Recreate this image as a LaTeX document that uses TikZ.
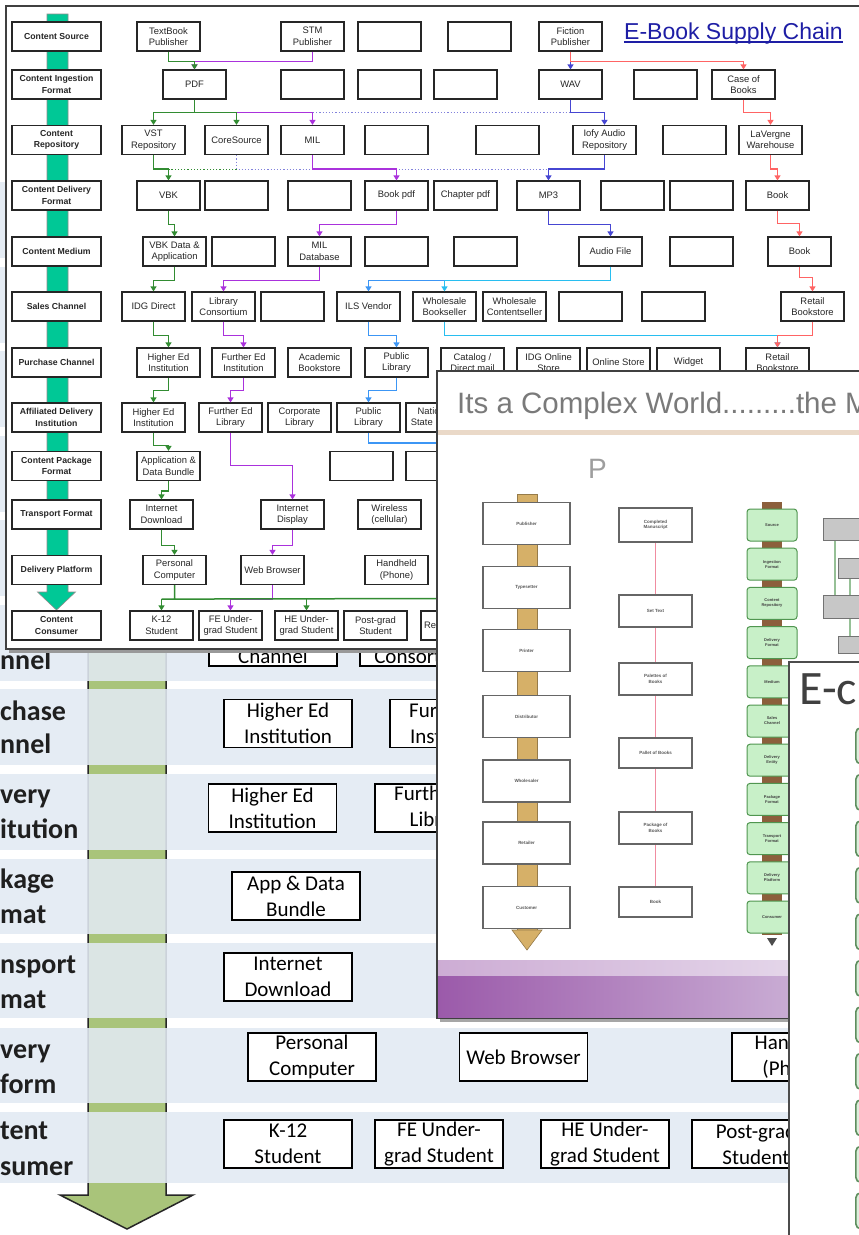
\documentclass[tikz,border=0pt]{standalone}
\usepackage{fontspec}
\setmainfont{Liberation Sans}
\newfontfamily\calib{Carlito}
\usetikzlibrary{arrows.meta,calc}
\definecolor{rowblue}{RGB}{226,234,243}
\definecolor{colgreen}{RGB}{169,196,122}
\definecolor{teal1}{RGB}{0,200,150}
\definecolor{cgreen}{RGB}{50,140,50}
\definecolor{cpurple}{RGB}{170,50,220}
\definecolor{cred}{RGB}{255,100,100}
\definecolor{cblue}{RGB}{70,70,210}
\definecolor{clblue}{RGB}{60,150,245}
\definecolor{ccyan}{RGB}{40,190,240}
\definecolor{cdot}{RGB}{130,130,220}
\definecolor{titleblue}{RGB}{30,30,165}
\definecolor{tanc}{RGB}{214,176,104}
\definecolor{brownc}{RGB}{140,95,60}
\definecolor{lgreen}{RGB}{200,240,200}
\definecolor{dgreen}{RGB}{80,150,80}
\definecolor{purpL}{RGB}{155,90,170}
\definecolor{purpR}{RGB}{212,192,222}
\definecolor{pinkc}{RGB}{240,140,160}
\definecolor{beige}{RGB}{234,217,200}
\definecolor{rgreenf}{RGB}{220,238,220}
\definecolor{rgreend}{RGB}{94,142,94}
\begin{document}
\begin{tikzpicture}[x=1pt,y=-1pt,
  tb/.style={draw=black!85, line width=1.2pt, fill=white, minimum width=63pt, minimum height=29pt, inner sep=0pt, align=center, font=\fontsize{9.4}{11.5}\selectfont, text=black!85},
  tlab/.style={tb, minimum width=89pt, font=\fontsize{8.7}{11.5}\selectfont\bfseries},
  cl/.style={line width=1.5pt, draw=#1, -{Triangle[width=6pt,length=5pt]}},
  pl/.style={line width=1.5pt, draw=#1},
  dotl/.style={line width=1.2pt, draw=#1, dotted},
  bgbox/.style={draw=black, line width=1.5pt, fill=white, minimum width=128pt, minimum height=48pt, inner sep=0pt, align=center, font=\calib\fontsize{21}{26}\selectfont},
  bgtxt/.style={anchor=base, font=\calib\fontsize{21}{26}\selectfont, inner sep=0pt},
  bglab/.style={anchor=base west, font=\calib\bfseries\fontsize{28}{30}\selectfont, text=black!88, inner sep=0pt},
  mbox/.style={draw=black!60, line width=1.2pt, fill=white, inner sep=0pt, align=center, font=\fontsize{4.5}{5.5}\selectfont\bfseries, text=black!65},
  gbox/.style={draw=dgreen, line width=1pt, fill=lgreen, rounded corners=3pt, minimum width=50pt, minimum height=32pt, inner sep=0pt, align=center, font=\fontsize{4}{5}\selectfont\bfseries, text=black!75},
  graybox/.style={draw=black!55, line width=1pt, fill=black!22, minimum width=50pt, inner sep=0pt},
  rbox/.style={draw=rgreend, line width=1.6pt, fill=rgreenf, rounded corners=5pt, minimum width=40pt, minimum height=36pt, inner sep=0pt}
]
\useasboundingbox (0,0) rectangle (859,1235);
\clip (0,0) rectangle (859,1235);
\fill[white] (0,0) rectangle (859,1235);

% ================= background slide =================
\filldraw[fill=colgreen, draw=black!85, line width=1.5pt] (88,180) -- (166,180) -- (166,1195) -- (193,1195) -- (127,1229) -- (60,1195) -- (88,1195) -- cycle;
\foreach \t/\b in {182/258,267/343,351/427,436/512,520/596,605/681,689/765,774/850,859/934,943/1018,1028/1103,1112/1183}
  \fill[rowblue, opacity=0.88] (0,\t) rectangle (859,\b);

\node[bglab] (bl1) at (0,669) {nnel};
\node[bglab] (bl2) at (0,720) {chase};
\node[bglab] (bl3) at (0,753) {nnel};
\node[bglab] (bl4) at (0,803) {very};
\node[bglab] (bl5) at (0,838) {itution};
\node[bglab] (bl6) at (0,888) {kage};
\node[bglab] (bl7) at (0,923) {mat};
\node[bglab] (bl8) at (0,973) {nsport};
\node[bglab] (bl9) at (0,1008) {mat};
\node[bglab] (bl10) at (0,1058) {very};
\node[bglab] (bl11) at (0,1093) {form};
\node[bglab] (bl12) at (0,1139) {tent};
\node[bglab] (bl13) at (0,1175) {sumer};

\node[bgbox] (bgch) at (273,642) {};
\node[bgtxt] (bgcht) at (273,663) {Channel};
\node[bgbox] (bgco) at (424,642) {};
\node[bgtxt] (bgcot) at (424,663) {Consortium};
\node[bgbox] (bghei1) at (288,723.5) {Higher Ed\\Institution};
\node[bgbox] (bgfei) at (454,723.5) {Further Ed\\Institution};
\node[bgbox] (bghei2) at (272.5,808) {Higher Ed\\Institution};
\node[bgbox] (bgfel) at (439,808) {Further Ed\\Library};
\node[bgbox] (bgadb) at (296,896) {App \& Data\\Bundle};
\node[bgbox] (bgidl) at (288,977) {Internet\\Download};
\node[bgbox] (bgpc) at (312,1057) {Personal\\Computer};
\node[bgbox] (bgwb) at (523.5,1057) {Web Browser};
\node[bgbox] (bghh) at (796,1057) {Handheld\\(Phone)};
\node[bgbox] (bgk12) at (288,1144) {K-12\\Student};
\node[bgbox] (bgfeu) at (439,1144) {FE Under-\\grad Student};
\node[bgbox] (bgheu) at (605,1144) {HE Under-\\grad Student};
\node[bgbox] (bgpgs) at (756,1144) {Post-grad\\Student};

% ================= top diagram =================
\fill[black!40] (9,9) rectangle (875,653);
\filldraw[fill=white, draw=black!75, line width=1.3pt] (6,6) rectangle (875,649);
\filldraw[fill=teal1, draw=black!45, line width=0.6pt] (47,14) -- (68,14) -- (68,592) -- (75.5,592) -- (56.5,610) -- (37.5,592) -- (47,592) -- cycle;

\node[tlab] (L1) at (56.5,36.5) {Content Source};
\node[tlab] (L2) at (56.5,84.5) {Content Ingestion\\Format};
\node[tlab] (L3) at (56.5,140) {Content\\Repository};
\node[tlab] (L4) at (56.5,195.5) {Content Delivery\\Format};
\node[tlab] (L5) at (56.5,251.5) {Content Medium};
\node[tlab] (L6) at (56.5,306.5) {Sales Channel};
\node[tlab] (L7) at (56.5,362.5) {Purchase Channel};
\node[tlab] (L8) at (56.5,417.5) {Affiliated Delivery\\Institution};
\node[tlab] (L9) at (56.5,466) {Content Package\\Format};
\node[tlab] (L10) at (56.5,514.5) {Transport Format};
\node[tlab] (L11) at (56.5,570) {Delivery Platform};
\node[tlab] (L12) at (56.5,625.5) {Content\\Consumer};

% row 1
\node[tb] (tbp) at (168.5,36.5) {TextBook\\Publisher};
\node[tb] (stm) at (312.5,36.5) {STM\\Publisher};
\node[tb] (e1a) at (389.5,36.5) {};
\node[tb] (e1b) at (479.5,36.5) {};
\node[tb] (fic) at (570.5,36.5) {Fiction\\Publisher};
\node[anchor=base, font=\fontsize{23}{26}\selectfont, text=titleblue, inner sep=0pt] (title) at (733.5,39) {E-Book Supply Chain};
\draw[titleblue, line width=1.2pt] (title.south west |- 0,42) -- (title.south east |- 0,42);
% row 2
\node[tb] (pdf) at (194.5,84.5) {PDF};
\node[tb] (e2a) at (312.5,84.5) {};
\node[tb] (e2b) at (389.5,84.5) {};
\node[tb] (e2c) at (465.5,84.5) {};
\node[tb] (wav) at (570.5,84.5) {WAV};
\node[tb] (e2d) at (665.5,84.5) {};
\node[tb] (case) at (743.5,84.5) {Case of\\Books};
% row 3
\node[tb] (vst) at (153.5,140) {VST\\Repository};
\node[tb] (cores) at (236.5,140) {CoreSource};
\node[tb] (mil) at (312.5,140) {MIL};
\node[tb] (e3a) at (396.5,140) {};
\node[tb] (e3b) at (507.5,140) {};
\node[tb] (iofy) at (604.5,140) {Iofy Audio\\Repository};
\node[tb] (e3c) at (694.5,140) {};
\node[tb] (lav) at (770.5,140) {LaVergne\\Warehouse};
% row 4
\node[tb] (vbk) at (168.5,195.5) {VBK};
\node[tb] (e4a) at (236.5,195.5) {};
\node[tb] (e4b) at (319.5,195.5) {};
\node[tb] (bpdf) at (396.5,195.5) {Book pdf};
\node[tb] (cpdf) at (465.5,195.5) {Chapter pdf};
\node[tb] (mp3) at (548.5,195.5) {MP3};
\node[tb] (e4c) at (632.5,195.5) {};
\node[tb] (e4d) at (701.5,195.5) {};
\node[tb] (book4) at (777.5,195.5) {Book};
% row 5
\node[tb] (vbkd) at (174.5,251.5) {VBK Data \&\\Application};
\node[tb] (e5a) at (243.5,251.5) {};
\node[tb] (mildb) at (319.5,251.5) {MIL\\Database};
\node[tb] (e5b) at (396.5,251.5) {};
\node[tb] (e5c) at (485.5,251.5) {};
\node[tb] (audio) at (610.5,251.5) {Audio File};
\node[tb] (e5d) at (701.5,251.5) {};
\node[tb] (book5) at (799.5,251.5) {Book};
% row 6
\node[tb] (idg) at (153.5,306.5) {IDG Direct};
\node[tb] (libc) at (223.5,306.5) {Library\\Consortium};
\node[tb] (e6a) at (292.5,306.5) {};
\node[tb] (ils) at (368.5,306.5) {ILS Vendor};
\node[tb] (wbook) at (444.5,306.5) {Wholesale\\Bookseller};
\node[tb] (wcont) at (514.5,306.5) {Wholesale\\Contentseller};
\node[tb] (e6b) at (590.5,306.5) {};
\node[tb] (e6c) at (673.5,306.5) {};
\node[tb] (ret6) at (812.5,306.5) {Retail\\Bookstore};
% row 7
\node[tb] (hei7) at (168.5,362.5) {Higher Ed\\Institution};
\node[tb] (fei7) at (243.5,362.5) {Further Ed\\Institution};
\node[tb] (acad) at (319.5,362.5) {Academic\\Bookstore};
\node[tb] (pl7) at (396.5,362.5) {Public\\Library};
\node[tb] (cat) at (472.5,362.5) {Catalog /\\Direct mail};
\node[tb] (idgo) at (548.5,362.5) {IDG Online\\Store};
\node[tb] (ostore) at (618.5,362.5) {Online Store};
\node[tb] (widg) at (688.5,362.5) {Widget};
\node[tb] (ret7) at (777.5,362.5) {Retail\\Bookstore};
% row 8
\node[tb] (hei8) at (153.5,417.5) {Higher Ed\\Institution};
\node[tb] (fel8) at (230.5,417.5) {Further Ed\\Library};
\node[tb] (corp) at (299.5,417.5) {Corporate\\Library};
\node[tb] (pl8) at (368.5,417.5) {Public\\Library};
\node[tb] (nsl) at (437.5,417.5) {National /\\State Library};
% row 9
\node[tb] (adb) at (168.5,466) {Application \&\\Data Bundle};
\node[tb] (e9a) at (361.5,466) {};
\node[tb] (e9b) at (437.5,466) {};
% row 10
\node[tb] (idown) at (161.5,514.5) {Internet\\Download};
\node[tb] (idisp) at (292.5,514.5) {Internet\\Display};
\node[tb] (wire) at (389.5,514.5) {Wireless\\(cellular)};
% row 11
\node[tb] (pc) at (174.5,570) {Personal\\Computer};
\node[tb] (webb) at (272.5,570) {Web Browser};
\node[tb] (hand) at (396.5,570) {Handheld\\(Phone)};
% row 12
\node[tb] (k12) at (161.5,625.5) {K-12\\Student};
\node[tb] (feu) at (230.5,625.5) {FE Under-\\grad Student};
\node[tb] (heu) at (306.5,625.5) {HE Under-\\grad Student};
\node[tb] (pgs) at (375.5,625.5) {Post-grad\\Student};
\node[tb] (re12) at (452.5,625.5) {};
\node[anchor=west, font=\fontsize{9.4}{11.5}\selectfont, text=black!85, inner sep=0pt] (re12t) at (424,625.5) {Re};

% connectors
\draw[cl=cpurple] (stm.south) -- ++(0,10) -| (pdf.north);
\draw[cl=cgreen] (tbp.south) -- ++(0,10) -| (pdf.north);
\coordinate (jp) at ($(pdf.south)+(0,13)$);
\draw[dotl=cdot] (jp) -- (jp -| wav.south);
\draw[cl=cpurple] (pdf.south) -- (jp) -| (mil.north);
\draw[cl=cgreen] (pdf.south) -- (jp) -| (vst.north);
\draw[cl=cgreen] (jp) -| (cores.north);
\draw[cl=cblue] (fic.south) -- (wav.north);
\draw[cl=cred] (fic.south) -- ++(0,10) -| (case.north);
\draw[cl=cblue] (wav.south) -- ++(0,13) -| (iofy.north);
\draw[cl=cred] (case.south) -- ++(0,13) -| (lav.north);
\draw[cl=cred] (lav.south) -- ++(0,14) -| (book4.north);
\draw[cl=cred] (book4.south) -- ++(0,13) -| (book5.north);
\draw[cl=cred] (book5.south) -- ++(0,11) -| (ret6.north);

\coordinate (jc) at ($(cores.south)+(0,14)$);
\draw[dotl=cgreen] (jc) -- (jc -| vbk.north);
\draw[dotl=cdot] (cores.south) -- (jc) -- (jc -| iofy.south);
\draw[cl=cgreen] (vst.south) -- ++(0,14) -| (vbk.north);
\draw[cl=cpurple] (mil.south) -- ++(0,14) -| (bpdf.north);
\draw[cl=cblue] (iofy.south) -- ++(0,14) -| (mp3.north);
\draw[cl=cgreen] (vbk.south) -- ++(0,14) -| (vbkd.north);
\draw[cl=cpurple] (bpdf.south) -- ++(0,14) -| (mildb.north);
\draw[cl=cblue] (mp3.south) -- ++(0,14) -| (audio.north);
\draw[cl=cgreen] (vbkd.south) -- ++(0,14) -| (idg.north);
\draw[cl=cpurple] (mildb.south) -- ++(0,14) -| (libc.north);
\draw[cl=clblue] (audio.south) -- ++(0,14) -| (ils.north);
\draw[cl=ccyan] (audio.south) -- ++(0,14) -| (wbook.north);
\draw[cl=cgreen] (idg.south) -- ++(0,14) -| (hei7.north);
\draw[cl=cpurple] (libc.south) -- ++(0,14) -| (fei7.north);
\draw[cl=clblue] (ils.south) -- ++(0,14) -| (pl7.north);
\draw[cl=ccyan] (wbook.south) -- ++(0,14) -| (ret7.north);
\draw[cl=cred] (ret6.south) -- ++(0,14) -| (ret7.north);
\draw[cl=cgreen] (hei7.south) -- ++(0,13) -| (hei8.north);
\draw[cl=cpurple] (fei7.south) -- ++(0,13) -| (fel8.north);
\draw[cl=clblue] (pl7.south) -- ++(0,13) -| (pl8.north);
\coordinate (plend) at (450,443);
\draw[pl=clblue] (pl8.south) |- (plend);
\draw[cl=cgreen] (hei8.south) -- ++(0,13) -| (adb.north);
\draw[cl=cpurple] (fel8.south) -- ++(0,33) -| (idisp.north);
\draw[cl=cgreen] (adb.south) -- ++(0,10) -| (idown.north);
\draw[cl=cgreen] (idown.south) -- ++(0,16) -| (pc.north);
\draw[cl=cpurple] (idisp.south) -- ++(0,16) -| (webb.north);
\draw[cl=cpurple] (webb.south) -- ++(0,14) -| (feu.north);
\coordinate (jpc) at ($(pc.south)+(0,14)$);
\coordinate (pcend) at (450,598.5);
\draw[pl=cgreen] (pc.south) -- (jpc) (k12.north |- jpc) -- (pcend);
\draw[cl=cgreen] (k12.north |- jpc) -- (k12.north);
\draw[cl=cgreen] (heu.north |- jpc) -- (heu.north);

% ================= middle slide =================
\fill[black!35] (440,375) rectangle (878,1022);
\filldraw[fill=white, draw=black!75, line width=1.2pt] (437,371) rectangle (878,1018);
\node[anchor=base west, font=\fontsize{29.5}{32}\selectfont, text=black!52, inner sep=0pt] (mtitle) at (457,413) {Its a Complex World.........the M};
\fill[beige] (438,430) rectangle (877,435);
\node[anchor=base west, font=\fontsize{28}{28}\selectfont, text=black!38, inner sep=0pt] (mp) at (588,478) {P};
% column 1
\filldraw[fill=tanc, draw=tanc!70!black, line width=0.6pt] (517,494) rectangle (537,930);
\filldraw[fill=tanc, draw=tanc!70!black, line width=0.6pt] (512,930) -- (542,930) -- (527,950) -- cycle;
\foreach \y/\t [count=\i] in {523.5/Publisher, 587.5/Typesetter, 650.5/Printer, 716.5/Distributor, 781/Wholesaler, 843/Retailer, 907.5/Customer}
  \node[mbox, minimum width=87pt, minimum height=42pt] (ma\i) at (526.5,\y) {\t};
% column 2
\draw[pinkc, line width=1.6pt] (655.5,542) -- (655.5,887);
\foreach \y/\h/\t [count=\i] in {525/34/{Completed\\Manuscript}, 611/32/{Set Text}, 679/32/{Palettes of\\Books}, 753/30/{Pallet of Books}, 828/32/{Package of\\Books}, 902/30/{Book}}
  \node[mbox, minimum width=73pt, minimum height=\h pt] (mb\i) at (655.5,\y) {\t};
% column 3
\fill[brownc] (762,502) rectangle (782,935);
\foreach \t [count=\i from 0] in {Source, {Ingestion\\Format}, {Content\\Repository}, {Delivery\\Format}, Medium, {Sales\\Channel}, {Delivery\\Entity}, {Package\\Format}, {Transport\\Format}, {Delivery\\Platform}, Consumer}
  \node[gbox] (mc\i) at (772,{525+39.2*\i}) {\t};
\fill[black!70] (767,938) -- (777,938) -- (772,946) -- cycle;
% column 4
\draw[dgreen!60, line width=2pt] (835,540) -- (835,595) (850,578) -- (850,640);
\node[graybox, minimum height=22pt] (md1) at (848,529) {};
\node[graybox, minimum height=20pt] (md2) at (863,568) {};
\node[graybox, minimum height=23pt] (md3) at (848,606.5) {};
\node[graybox, minimum height=17pt] (md4) at (863,645) {};
% purple band
\shade[left color=purpL, right color=purpR] (438,960) rectangle (877,1017);
\shade[top color=white, bottom color=purpL!0, opacity=0.5] (438,958) rectangle (877,975);

% ================= right slide =================
\fill[black!25] (791,665) rectangle (880,1240);
\filldraw[fill=white, draw=black!70, line width=1.2pt] (789,662) rectangle (880,1245);
\node[anchor=base west, font=\calib\fontsize{48}{48}\selectfont, text=black!75, inner sep=0pt] (rtitle) at (799,704) {E-c};
\foreach \i in {0,...,10}
  \node[rbox, anchor=north west] (rg\i) at (855,{727+46.5*\i}) {};
\end{tikzpicture}
\end{document}
